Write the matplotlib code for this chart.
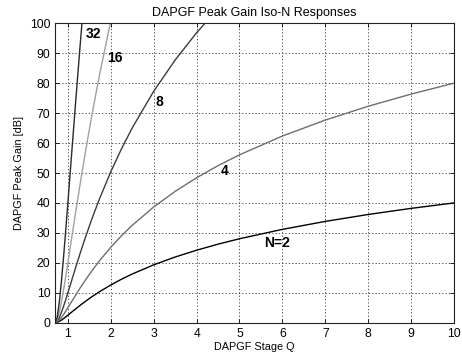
import matplotlib
matplotlib.use("Agg")
import matplotlib.pyplot as plt

plt.rcParams['font.family'] = ['Liberation Sans', 'DejaVu Sans']

# Stage Q values (x)
Q = [0.7071, 0.75, 0.8, 0.85, 0.9, 0.95, 1.0, 1.1, 1.2, 1.3, 1.4, 1.5, 1.6, 1.75,
     2.0, 2.25, 2.5, 3.0, 3.5, 4.0, 4.5, 5.0, 6.0, 7.0, 8.0, 9.0, 10.0]

# Peak gain [dB] for each N
gain_N2 = [0, 0.11, 0.43, 0.87, 1.38, 1.93, 2.50, 3.67, 4.82, 5.95, 7.03, 8.07, 9.06, 10.46,
           12.60, 14.53, 16.27, 19.33, 21.94, 24.22, 26.24, 28.05, 31.19, 33.85, 36.16, 38.20, 40.02]
gain_N4 = [0, 0.22, 0.85, 1.73, 2.75, 3.85, 5.00, 7.33, 9.64, 11.90, 14.06, 16.13, 18.12, 20.92,
           25.20, 29.06, 32.54, 38.66, 43.88, 48.44, 52.47, 56.09, 62.38, 67.70, 72.32, 76.39, 80.04]
gain_N8 = [0, 0.43, 1.70, 3.46, 5.50, 7.70, 9.99, 14.66, 19.29, 23.79, 28.12, 32.26, 36.23, 41.84,
           50.41, 58.11, 65.09, 77.32, 87.77, 96.88, 104.94, 112.18, 124.75, 135.39, 144.63, 152.78, 160.09]
gain_N16 = [0, 0.86, 3.41, 6.93, 11.01, 15.41, 19.98, 29.33, 38.58, 47.58, 56.24, 64.53, 72.46, 83.68,
            100.82, 116.22, 130.18, 154.64, 175.54, 193.76, 209.89, 224.37, 249.50, 270.78, 289.26, 305.57, 320.18]
gain_N32 = [0, 1.73, 6.81, 13.86, 22.02, 30.82, 39.97, 58.66, 77.15, 95.17, 112.48, 129.06, 144.93, 167.36,
            201.63, 232.45, 260.35, 309.28, 351.07, 387.52, 419.78, 448.74, 499.01, 541.57, 578.53, 611.14, 640.35]

series = [
    ("N=2", gain_N2, "#000000"),
    ("4", gain_N4, "#6e6e6e"),
    ("8", gain_N8, "#3c3c3c"),
    ("16", gain_N16, "#a0a0a0"),
    ("32", gain_N32, "#2a2a2a"),
]
label_pos = {"N=2": (5.58, 26.6), "4": (4.56, 50.6), "8": (3.04, 73.8),
             "16": (1.92, 88.5), "32": (1.42, 96.5)}

x_ticks = [1, 2, 3, 4, 5, 6, 7, 8, 9, 10]
y_ticks = [0, 10, 20, 30, 40, 50, 60, 70, 80, 90, 100]

fig = plt.figure(figsize=(4.62, 3.55), dpi=100)
ax = fig.add_axes([0.1197, 0.091, 0.8630, 0.843])

for name, vals, col in series:
    ax.plot(Q, vals, color=col, lw=1.0)
    lx, ly = label_pos[name]
    ax.text(lx, ly, name, fontsize=10, fontweight='bold', ha='left', va='center', color='black')

ax.set_xlim(0.7071, 10)
ax.set_ylim(0, 100)
ax.set_xticks(x_ticks)
ax.set_yticks(y_ticks)
ax.tick_params(direction='in', labelsize=8.7, length=3, width=0.6, top=True, right=True)
ax.grid(True, linestyle=(0, (1.5, 2.5)), color='#333333', lw=0.6)
for s in ax.spines.values():
    s.set_linewidth(0.8)
    s.set_color('#222222')

ax.set_title("DAPGF Peak Gain Iso-N Responses", fontsize=9, pad=5)
ax.set_xlabel("DAPGF Stage Q", fontsize=7.8, labelpad=2)
ax.set_ylabel("DAPGF Peak Gain [dB]", fontsize=7.8, labelpad=4)

fig.savefig("out.png", dpi=100)
